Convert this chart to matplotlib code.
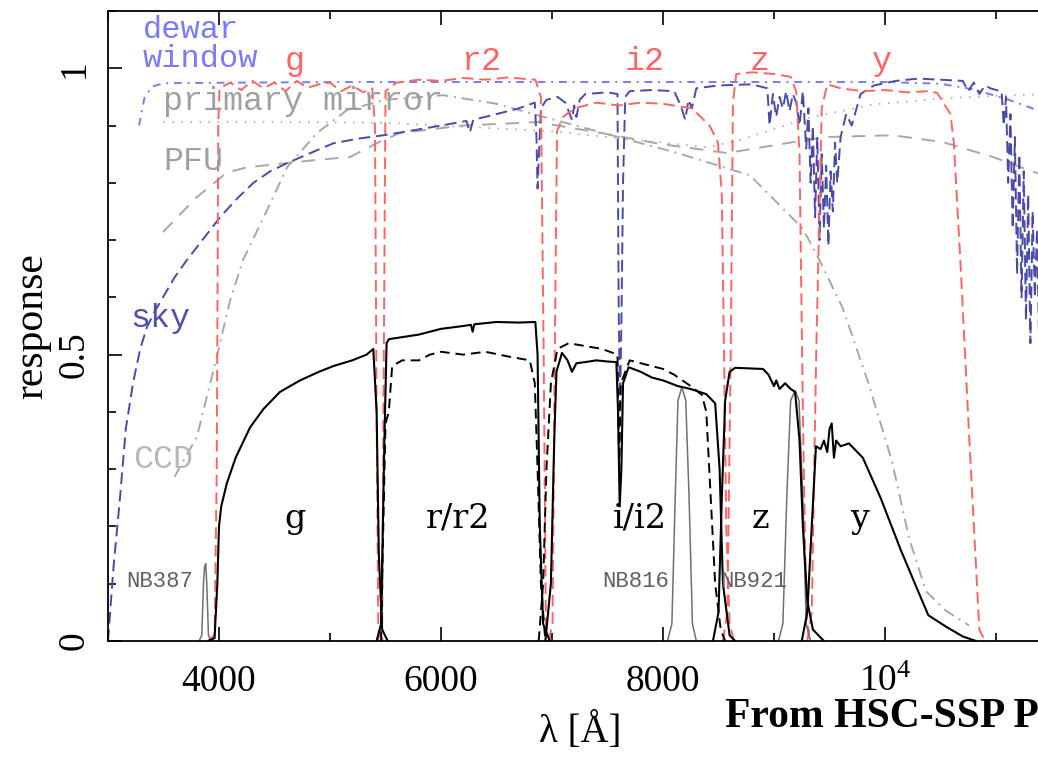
import matplotlib.pyplot as plt
from matplotlib.ticker import FixedLocator, MultipleLocator

plt.rcParams['mathtext.fontset'] = 'custom'
plt.rcParams['mathtext.rm'] = 'Liberation Serif'

# ---- filter transmissions (red dashed) ----
g_flt_wl = [3900, 3960, 3980, 3993, 4005, 4100, 4200, 4300, 4400, 4500, 4600, 4700, 4800,
            4900, 5000, 5100, 5200, 5300, 5380, 5405, 5420, 5435, 5480]
g_flt = [0.0, 0.01, 0.3, 0.9, 0.965, 0.975, 0.962, 0.978, 0.965, 0.975, 0.96, 0.978, 0.966,
         0.972, 0.975, 0.96, 0.97, 0.958, 0.965, 0.9, 0.4, 0.02, 0.0]
r2_flt_wl = [5430, 5470, 5485, 5500, 5600, 5800, 6000, 6200, 6400, 6600, 6850, 6900, 6925, 6945, 6990]
r2_flt = [0.0, 0.03, 0.5, 0.96, 0.975, 0.98, 0.978, 0.983, 0.98, 0.984, 0.98, 0.95, 0.5, 0.03, 0.0]
i2_flt_wl = [6970, 7005, 7025, 7045, 7100, 7200, 7400, 7600, 7800, 8000, 8260, 8420, 8495,
             8530, 8550, 8570, 8600, 8640]
i2_flt = [0.0, 0.03, 0.5, 0.89, 0.915, 0.93, 0.94, 0.935, 0.94, 0.938, 0.93, 0.9, 0.87,
          0.78, 0.5, 0.2, 0.03, 0.0]
z_flt_wl = [8540, 8580, 8610, 8630, 8660, 8800, 9000, 9150, 9200, 9230, 9260, 9290, 9320]
z_flt = [0.0, 0.05, 0.5, 0.94, 0.99, 0.993, 0.99, 0.985, 0.96, 0.85, 0.4, 0.05, 0.0]
y_flt_wl = [9300, 9340, 9380, 9430, 9480, 9600, 9800, 10000, 10200, 10400, 10470, 10590,
            10620, 10680, 10760, 10850, 10900]
y_flt = [0.0, 0.05, 0.5, 0.93, 0.972, 0.965, 0.96, 0.962, 0.958, 0.96, 0.957, 0.92,
         0.87, 0.66, 0.35, 0.02, 0.0]

# ---- total response (black solid) ----
g_tot_wl = [3900, 3960, 3985, 4000, 4020, 4070, 4150, 4280, 4400, 4550, 4730, 4900, 5030,
            5200, 5330, 5390, 5420, 5440, 5470, 5520]
g_tot = [0.0, 0.005, 0.1, 0.2, 0.235, 0.275, 0.32, 0.373, 0.405, 0.435, 0.455, 0.47, 0.48,
         0.49, 0.5, 0.51, 0.4, 0.15, 0.02, 0.0]
r_tot_wl = [5420, 5460, 5490, 5510, 5530, 5800, 6000, 6200, 6270, 6285, 6300, 6500, 6700,
            6850, 6870, 6890, 6920, 6980]
r_tot = [0.0, 0.03, 0.35, 0.52, 0.527, 0.535, 0.545, 0.55, 0.552, 0.54, 0.553, 0.557, 0.556,
         0.557, 0.5, 0.2, 0.03, 0.0]
i_tot_wl = [6940, 6990, 7020, 7040, 7090, 7140, 7180, 7220, 7300, 7400, 7500, 7580, 7595,
            7610, 7625, 7640, 7690, 7800, 7900, 8000, 8135, 8250, 8390, 8470, 8510, 8540,
            8600, 8650]
i_tot = [0.0, 0.1, 0.35, 0.47, 0.503, 0.49, 0.47, 0.485, 0.487, 0.49, 0.488, 0.487, 0.4,
         0.235, 0.3, 0.45, 0.478, 0.47, 0.46, 0.455, 0.445, 0.44, 0.431, 0.415, 0.3, 0.1,
         0.01, 0.0]
z_tot_wl = [8450, 8500, 8530, 8560, 8600, 8650, 8900, 8950, 9000, 9020, 9050, 9100, 9150,
            9190, 9230, 9260, 9300, 9350, 9450]
z_tot = [0.0, 0.05, 0.25, 0.42, 0.47, 0.477, 0.475, 0.465, 0.445, 0.455, 0.44, 0.45, 0.44,
         0.435, 0.35, 0.2, 0.07, 0.02, 0.0]
y_tot_wl = [9250, 9300, 9340, 9378, 9420, 9450, 9480, 9500, 9520, 9540, 9560, 9600, 9675,
            9800, 9960, 10140, 10270, 10390, 10550, 10700, 10820]
y_tot = [0.0, 0.05, 0.2, 0.34, 0.335, 0.35, 0.33, 0.37, 0.38, 0.32, 0.35, 0.34, 0.345,
         0.32, 0.25, 0.16, 0.1, 0.045, 0.025, 0.008, 0.0]

# ---- old r and i (black dashed) ----
r_old_wl = [5460, 5480, 5500, 5530, 5560, 5650, 5800, 5900, 6000, 6200, 6400, 6600, 6800,
            6845, 6870, 6900, 6940]
r_old = [0.0, 0.2, 0.38, 0.4, 0.48, 0.49, 0.49, 0.5, 0.505, 0.5, 0.505, 0.497, 0.49, 0.45,
         0.3, 0.1, 0.0]
i_old_wl = [6880, 6920, 6950, 6990, 7050, 7150, 7300, 7450, 7590, 7605, 7620, 7700, 7800,
            8000, 8100, 8250, 8350, 8390, 8430, 8470, 8520, 8560]
i_old = [0.0, 0.1, 0.3, 0.45, 0.51, 0.52, 0.515, 0.51, 0.5, 0.3, 0.45, 0.49, 0.485, 0.475,
         0.465, 0.445, 0.43, 0.4, 0.25, 0.1, 0.02, 0.0]

# ---- narrow-band filters (grey solid) ----
nb387_wl = [3820, 3845, 3860, 3870, 3880, 3890, 3905, 3930]
nb387 = [0.0, 0.01, 0.1, 0.13, 0.135, 0.1, 0.01, 0.0]
nb816_wl = [8040, 8080, 8110, 8135, 8170, 8205, 8235, 8265, 8300]
nb816 = [0.0, 0.03, 0.25, 0.42, 0.443, 0.42, 0.25, 0.03, 0.0]
nb921_wl = [9040, 9080, 9115, 9150, 9190, 9225, 9260, 9290, 9330]
nb921 = [0.0, 0.03, 0.25, 0.42, 0.437, 0.42, 0.25, 0.03, 0.0]

# ---- sky transmission (blue dashed) ----
sky_wl = [3000, 3050, 3108, 3160, 3225, 3290, 3351, 3420, 3495, 3600, 3710, 3850, 4010,
          4150, 4310, 4460, 4610, 4800, 5030, 5250, 5480, 5700, 6000, 6230, 6260, 6290,
          6500, 6700, 6845, 6860, 6870, 6885, 6900, 6950, 7050, 7120, 7150, 7180, 7200,
          7220, 7250, 7300, 7500, 7590, 7600, 7612, 7625, 7640, 7660, 7700, 7900, 8100,
          8160, 8200, 8230, 8260, 8300, 8500, 8800, 8940, 8960, 8990, 9020, 9050, 9080,
          9110, 9140, 9170, 9200, 9230, 9260, 9290, 9310, 9330, 9350, 9370, 9390, 9410,
          9430, 9450, 9470, 9490, 9510, 9530, 9550, 9570, 9600, 9650, 9700, 9780, 9900,
          10100, 10300, 10500, 10700, 10750, 10800, 10850, 10900, 10950, 11000, 11050,
          11070, 11090, 11110, 11130, 11150, 11170, 11190, 11210, 11230, 11250, 11270,
          11290, 11310, 11330, 11350, 11370, 11390, 11410, 11430, 11450, 11480, 11500]
sky = [0.0, 0.13, 0.25, 0.37, 0.45, 0.51, 0.548, 0.575, 0.6, 0.635, 0.665, 0.7, 0.74,
       0.77, 0.8, 0.82, 0.834, 0.85, 0.869, 0.877, 0.883, 0.89, 0.9, 0.908, 0.888, 0.91,
       0.92, 0.93, 0.94, 0.88, 0.79, 0.86, 0.93, 0.945, 0.95, 0.94, 0.925, 0.91, 0.935,
       0.915, 0.945, 0.955, 0.958, 0.955, 0.6, 0.41, 0.55, 0.8, 0.95, 0.96, 0.962, 0.96,
       0.935, 0.91, 0.945, 0.93, 0.965, 0.97, 0.972, 0.965, 0.9, 0.955, 0.915, 0.95, 0.93,
       0.96, 0.925, 0.955, 0.94, 0.9, 0.96, 0.86, 0.93, 0.8, 0.9, 0.74, 0.88, 0.7, 0.85,
       0.72, 0.83, 0.69, 0.82, 0.75, 0.87, 0.8, 0.88, 0.92, 0.9, 0.955, 0.97, 0.978, 0.982,
       0.98, 0.978, 0.96, 0.975, 0.955, 0.97, 0.965, 0.962, 0.96, 0.9, 0.95, 0.8, 0.92,
       0.72, 0.88, 0.64, 0.85, 0.6, 0.82, 0.56, 0.78, 0.52, 0.75, 0.6, 0.72, 0.5, 0.68,
       0.42, 0.65, 0.5, 0.55]

# ---- dewar window (blue dash-dot) ----
dewar_wl = [3280, 3330, 3400, 3500, 5000, 7000, 9000, 10000, 10500, 10800, 11100, 11400]
dewar = [0.9, 0.95, 0.968, 0.974, 0.976, 0.976, 0.976, 0.976, 0.973, 0.963, 0.946, 0.925]

# ---- primary mirror (grey dotted) ----
mirror_wl = [3500, 4500, 5500, 6000, 6500, 7000, 7500, 8000, 8400, 8700, 9300, 9900,
             10500, 11000, 11500]
mirror = [0.906, 0.906, 0.905, 0.9, 0.895, 0.89, 0.88, 0.87, 0.862, 0.875, 0.913, 0.937,
          0.947, 0.952, 0.955]

# ---- PFU (grey dashed) ----
pfu_wl = [3495, 3800, 4072, 4250, 4880, 5180, 5450, 5630, 6200, 6870, 7500, 7970, 8577,
          9171, 9477, 10072, 10523, 10973, 11370, 11500]
pfu = [0.714, 0.775, 0.818, 0.827, 0.84, 0.845, 0.872, 0.887, 0.9, 0.906, 0.885, 0.868,
       0.852, 0.871, 0.88, 0.883, 0.871, 0.845, 0.817, 0.81]

# ---- CCD QE (grey dash-dot) ----
ccd_wl = [3600, 3800, 3980, 4100, 4216, 4432, 4613, 4883, 5153, 5500, 6020, 6500, 6870,
          7500, 8130, 8500, 8784, 9260, 9410, 9622, 9856, 10063, 10216, 10369, 10541, 10757]
ccd = [0.287, 0.356, 0.496, 0.595, 0.665, 0.752, 0.827, 0.887, 0.927, 0.945, 0.953, 0.938,
       0.918, 0.885, 0.852, 0.83, 0.813, 0.72, 0.665, 0.58, 0.447, 0.314, 0.18, 0.087,
       0.054, 0.027]

red = '#ff6464'
sky_blue = '#4a4aac'
dewar_blue = '#7a7aff'
grey = '#a8a8a8'

fig = plt.figure(figsize=(10.38, 7.59), dpi=100)
ax = fig.add_axes([108 / 1038, 118 / 759, 943.5 / 1038, 630 / 759])

ax.plot(mirror_wl, mirror, color=grey, lw=1.3, dashes=(0.8, 4.2))
ax.plot(pfu_wl, pfu, color=grey, lw=1.4, dashes=(7, 5))
ax.plot(ccd_wl, ccd, color=grey, lw=1.4, dashes=(6, 3, 1, 3))
ax.plot(dewar_wl, dewar, color=dewar_blue, lw=1.4, dashes=(4, 3, 1, 3))
ax.plot(sky_wl, sky, color=sky_blue, lw=1.4, dashes=(6, 3))

for wl, tr in [(g_flt_wl, g_flt), (r2_flt_wl, r2_flt), (i2_flt_wl, i2_flt),
               (z_flt_wl, z_flt), (y_flt_wl, y_flt)]:
    ax.plot(wl, tr, color=red, lw=1.4, dashes=(6, 3))

for wl, tr in [(nb387_wl, nb387), (nb816_wl, nb816), (nb921_wl, nb921)]:
    ax.plot(wl, tr, color='#707070', lw=1.1)

ax.plot(r_old_wl, r_old, color='black', lw=1.4, dashes=(5, 3))
ax.plot(i_old_wl, i_old, color='black', lw=1.4, dashes=(5, 3))

for wl, tr in [(g_tot_wl, g_tot), (r_tot_wl, r_tot), (i_tot_wl, i_tot),
               (z_tot_wl, z_tot), (y_tot_wl, y_tot)]:
    ax.plot(wl, tr, color='black', lw=1.5)

ax.set_xlim(3000, 11500)
ax.set_ylim(0, 1.1)

# labels for components
mono = 'Liberation Mono'
ax.text(3315, 1.052, 'dewar', color=dewar_blue, family=mono, fontsize=23)
ax.text(3315, 1.002, 'window', color=dewar_blue, family=mono, fontsize=23)
ax.text(3495, 0.927, 'primary mirror', color='#a0a0a0', family=mono, fontsize=24)
ax.text(3495, 0.822, 'PFU', color='#a0a0a0', family=mono, fontsize=24)
ax.text(3198, 0.548, 'sky', color='#5050b0', family=mono, fontsize=24)
ax.text(3225, 0.302, 'CCD', color='#b8b8b8', family=mono, fontsize=24)

for name, xpos in [('g', 4685), ('r2', 6360), ('i2', 7838), ('z', 8874), ('y', 9973)]:
    ax.text(xpos, 0.997, name, color=red, family=mono, fontsize=24, ha='center')

for name, xpos in [('g', 4685), ('r/r2', 6153), ('i/i2', 7790), ('z', 8874), ('y', 9775)]:
    ax.text(xpos, 0.198, name, color='black', family='DejaVu Serif', fontsize=24, ha='center')

for name, xpos in [('NB387', 3160), ('NB816', 7450), ('NB921', 8520)]:
    ax.text(xpos, 0.095, name, color='#606060', family=mono, fontsize=16)

# axes styling
ax.xaxis.set_major_locator(FixedLocator([4000, 6000, 8000, 10000]))
ax.xaxis.set_minor_locator(MultipleLocator(1000))
ax.set_xticklabels(['4000', '6000', '8000', r'$\mathregular{10^4}$'])
ax.yaxis.set_major_locator(FixedLocator([0, 0.5, 1]))
ax.yaxis.set_minor_locator(MultipleLocator(0.1))
ax.set_yticklabels(['0', '0.5', '1'])
ax.tick_params(which='both', direction='in', top=True, right=True, width=1.2,
               labelsize=27)
ax.tick_params(which='major', length=10)
ax.tick_params(which='minor', length=6)
ax.tick_params(axis='x', pad=17)
ax.tick_params(axis='y', pad=12)
for lab in ax.get_xticklabels() + ax.get_yticklabels():
    lab.set_family('Liberation Serif')
for lab in ax.get_yticklabels():
    lab.set_rotation(90)
    lab.set_va('center')
for sp in ax.spines.values():
    sp.set_linewidth(1.3)

ax.set_xlabel('λ [Å]', family='Liberation Serif', fontsize=28, labelpad=10)
ax.set_ylabel('response', family='Liberation Serif', fontsize=30, labelpad=4)

# source note, cut off by the right edge as in the original
fig.text(725 / 1038, 32 / 759, 'From HSC-SSP PDR1', family='Liberation Serif',
         weight='bold', fontsize=30, color='black')

fig.savefig('out.png', dpi=100)
